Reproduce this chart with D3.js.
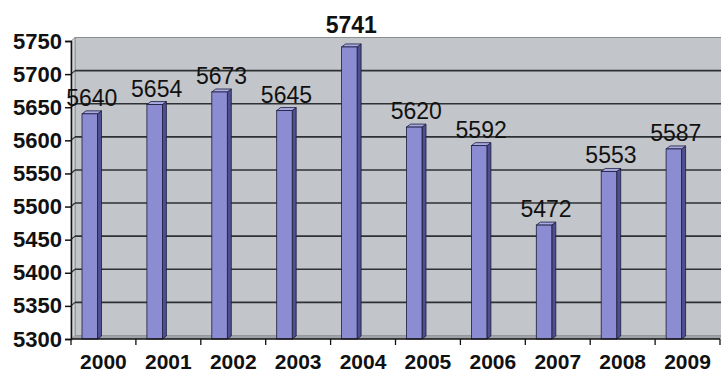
<!DOCTYPE html>
<html>
<head>
<meta charset="utf-8">
<script src="https://cdn.jsdelivr.net/npm/d3@7/dist/d3.min.js"></script>
<style>
  html, body { margin: 0; padding: 0; background: #ffffff; }
  svg { display: block; }
</style>
</head>
<body>
<svg id="chart" width="721" height="374"></svg>
<script>
const years = ["2000","2001","2002","2003","2004","2005","2006","2007","2008","2009"];
const values = [5640, 5654, 5673, 5645, 5741, 5620, 5592, 5472, 5553, 5587];
const yTicks = [5300, 5350, 5400, 5450, 5500, 5550, 5600, 5650, 5700, 5750];

const W = 721, H = 374;
const x0 = 71, x1 = 720, yTop = 41, yBot = 339;
const dx = 4, dy = -3.5;

const svg = d3.select("#chart");
const x = d3.scaleBand().domain(years).range([x0, x1]).paddingInner(0).paddingOuter(0);
const y = d3.scaleLinear().domain([5300, 5750]).range([yBot, yTop]);

// back wall
svg.append("rect")
  .attr("x", x0 + dx).attr("y", y(5750) + dy)
  .attr("width", x1 - x0).attr("height", yBot - yTop)
  .attr("fill", "#c2c5c9").attr("stroke", "#8a8d90").attr("stroke-width", 1);
// left side wall
svg.append("polygon")
  .attr("points", [[x0, yBot], [x0, yTop], [x0 + dx, yTop + dy], [x0 + dx, yBot + dy]].map(p => p.join(",")).join(" "))
  .attr("fill", "#d3d5d7").attr("stroke", "#8a8d90").attr("stroke-width", 0.8);
// floor
svg.append("polygon")
  .attr("points", [[x0, yBot], [x1, yBot], [x1 + dx, yBot + dy], [x0 + dx, yBot + dy]].map(p => p.join(",")).join(" "))
  .attr("fill", "#9fa2a6");

// gridlines
const grid = yTicks.filter(t => t > 5300 && t < 5750);
svg.append("g").selectAll("line.g").data(grid).join("line")
  .attr("x1", x0 + dx).attr("x2", x1 + dx)
  .attr("y1", d => y(d) + dy).attr("y2", d => y(d) + dy)
  .attr("stroke", "#2e3133").attr("stroke-width", 1.6);
svg.append("g").selectAll("line.gd").data(grid).join("line")
  .attr("x1", x0).attr("x2", x0 + dx)
  .attr("y1", d => y(d)).attr("y2", d => y(d) + dy)
  .attr("stroke", "#2e3133").attr("stroke-width", 1.2);

// bars
const off = 11, bw = 15.5, bdx = 4, bdy = -3;
const bars = svg.append("g").selectAll("g").data(values).join("g");
const fx = (d, i) => x(years[i]) + off;
bars.append("polygon")
  .attr("points", (d, i) => {
    const l = fx(d, i) + bw, t = y(d);
    return [[l, t], [l + bdx, t + bdy], [l + bdx, yBot + bdy], [l, yBot]].map(p => p.join(",")).join(" ");
  })
  .attr("fill", "#4f4f8f").attr("stroke", "#1c1c3c").attr("stroke-width", 0.8);
bars.append("polygon")
  .attr("points", (d, i) => {
    const l = fx(d, i), t = y(d);
    return [[l, t], [l + bdx, t + bdy], [l + bw + bdx, t + bdy], [l + bw, t]].map(p => p.join(",")).join(" ");
  })
  .attr("fill", "#a9a9e4").attr("stroke", "#1c1c3c").attr("stroke-width", 0.8);
bars.append("rect")
  .attr("x", (d, i) => fx(d, i)).attr("y", d => y(d))
  .attr("width", bw).attr("height", d => yBot - y(d))
  .attr("fill", "#8c8cd2").attr("stroke", "#1c1c3c").attr("stroke-width", 0.8);

// value labels
const vmax = d3.max(values);
svg.append("g").selectAll("text").data(values).join("text")
  .attr("x", (d, i) => fx(d, i) + (bw + bdx) / 2)
  .attr("y", d => {
    const ly = y(d) - 8;
    return ly < yTop + dy + 5 ? yTop + dy - 5 : ly;
  })
  .attr("text-anchor", "middle")
  .attr("font-family", "'Liberation Sans', Arial, sans-serif")
  .attr("font-size", 23)
  .attr("font-weight", d => d === vmax ? "bold" : "normal")
  .attr("fill", "#111")
  .text(d => d);

// y axis
const yAxis = svg.append("g").attr("transform", `translate(${x0},0)`)
  .call(d3.axisLeft(y).tickValues(yTicks).tickSize(6).tickPadding(3).tickFormat(d3.format("d")));
yAxis.select(".domain").attr("stroke", "#111").attr("stroke-width", 1.5);
yAxis.selectAll(".tick line").attr("stroke", "#111").attr("stroke-width", 1.5);
yAxis.selectAll(".tick text")
  .attr("font-family", "'Liberation Sans', Arial, sans-serif")
  .attr("font-size", 22).attr("font-weight", "bold").attr("fill", "#111");

// x axis
svg.append("line").attr("x1", x0).attr("x2", x1).attr("y1", yBot).attr("y2", yBot)
  .attr("stroke", "#111").attr("stroke-width", 1.5);
const bounds = years.map(c => x(c)).concat([x1]);
svg.append("g").selectAll("line").data(bounds).join("line")
  .attr("x1", d => d).attr("x2", d => d).attr("y1", yBot).attr("y2", yBot + 6)
  .attr("stroke", "#111").attr("stroke-width", 1.3);
svg.append("g").selectAll("text").data(years).join("text")
  .attr("x", d => x(d) + x.bandwidth() / 2)
  .attr("y", 369)
  .attr("text-anchor", "middle")
  .attr("font-family", "'Liberation Sans', Arial, sans-serif")
  .attr("font-size", 21).attr("font-weight", "bold").attr("fill", "#111")
  .text(d => d);
</script>
</body>
</html>
